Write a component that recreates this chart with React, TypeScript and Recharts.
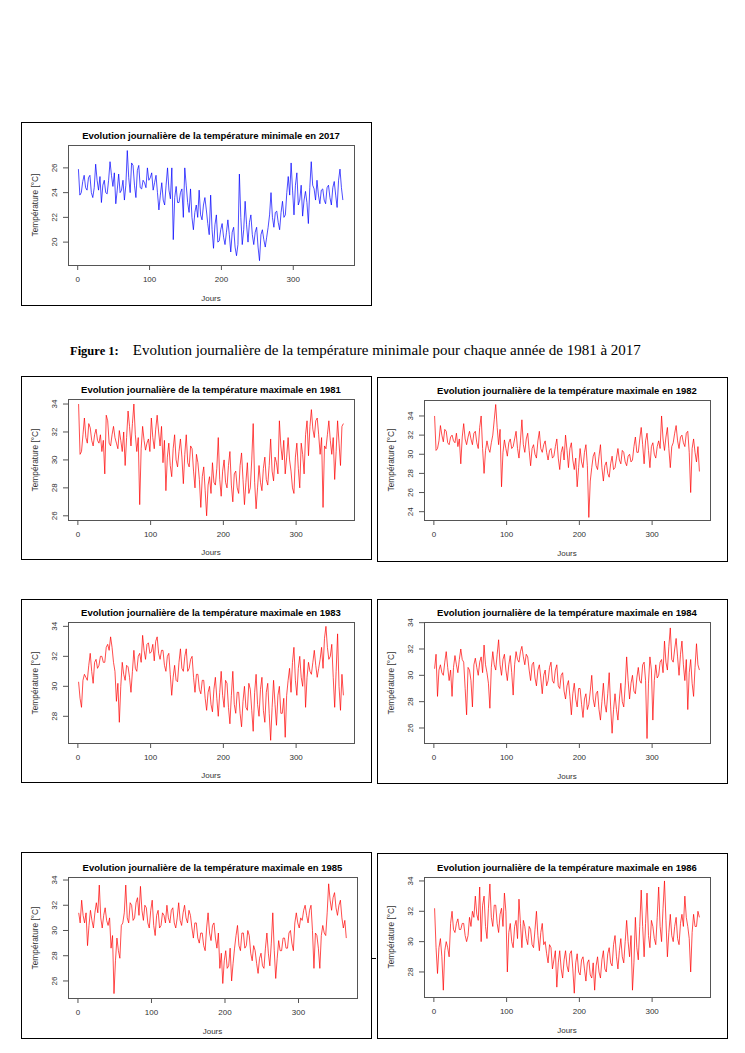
import { LineChart, Line, XAxis, YAxis } from "recharts";

// jours échantillonnés (1 sur 2)
const days = [
  1, 3, 5, 7, 9, 11, 13, 15, 17, 19, 21, 23, 25, 27, 29, 31, 33, 35, 37, 39,
  41, 43, 45, 47, 49, 51, 53, 55, 57, 59, 61, 63, 65, 67, 69, 71, 73, 75, 77, 79,
  81, 83, 85, 87, 89, 91, 93, 95, 97, 99, 101, 103, 105, 107, 109, 111, 113, 115, 117, 119,
  121, 123, 125, 127, 129, 131, 133, 135, 137, 139, 141, 143, 145, 147, 149, 151, 153, 155, 157, 159,
  161, 163, 165, 167, 169, 171, 173, 175, 177, 179, 181, 183, 185, 187, 189, 191, 193, 195, 197, 199,
  201, 203, 205, 207, 209, 211, 213, 215, 217, 219, 221, 223, 225, 227, 229, 231, 233, 235, 237, 239,
  241, 243, 245, 247, 249, 251, 253, 255, 257, 259, 261, 263, 265, 267, 269, 271, 273, 275, 277, 279,
  281, 283, 285, 287, 289, 291, 293, 295, 297, 299, 301, 303, 305, 307, 309, 311, 313, 315, 317, 319,
  321, 323, 325, 327, 329, 331, 333, 335, 337, 339, 341, 343, 345, 347, 349, 351, 353, 355, 357, 359,
  361, 363, 365,
];
const days2017 = [...days, 367, 369];

const tmin2017 = [
  25.9, 23.8, 24.0, 24.9, 25.4, 24.4, 24.2, 25.2, 25.4, 24.0,
  23.6, 24.4, 26.3, 25.0, 24.2, 25.3, 23.2, 24.6, 25.0, 24.0,
  23.9, 25.0, 26.5, 25.4, 24.5, 25.6, 23.1, 24.2, 25.5, 24.0,
  24.2, 25.0, 23.4, 24.6, 27.4, 25.2, 24.0, 26.4, 26.2, 24.6,
  23.6, 25.8, 26.2, 24.4, 24.3, 25.0, 24.8, 24.4, 26.0, 25.0,
  25.2, 25.6, 24.2, 24.8, 25.4, 24.0, 22.6, 23.8, 24.8, 23.4,
  23.0, 24.6, 26.0, 24.2, 23.5, 26.0, 20.2, 23.6, 24.5, 23.2,
  23.2, 24.0, 24.3, 22.0, 26.0, 24.6, 23.2, 22.4, 24.3, 22.0,
  21.0, 22.4, 23.0, 22.0, 24.2, 22.2, 21.8, 23.0, 23.6, 22.6,
  21.5, 20.6, 23.8, 21.0, 19.5, 21.4, 22.2, 20.0, 20.1, 21.0,
  21.5, 20.4, 19.8, 20.8, 21.8, 20.6, 19.2, 20.8, 21.2, 19.6,
  18.9, 19.8, 25.5, 22.0, 19.8, 21.0, 23.3, 21.4, 20.0, 21.6,
  22.2, 20.6, 19.8, 20.8, 21.2, 19.6, 18.5, 20.6, 21.0, 20.2,
  19.6, 20.4, 21.2, 22.2, 24.0, 22.0, 21.2, 22.4, 22.5, 21.6,
  21.0, 22.4, 23.3, 22.0, 22.2, 24.0, 25.3, 23.8, 26.4, 24.2,
  22.2, 24.6, 25.6, 23.0, 23.4, 24.6, 22.1, 23.4, 24.1, 23.2,
  21.5, 24.4, 26.5, 24.6, 24.3, 23.4, 25.0, 23.8, 23.1, 24.2,
  24.3, 23.4, 23.1, 24.4, 24.6, 23.6, 23.0, 24.4, 24.9, 23.8,
  22.8, 25.0, 25.9, 24.4, 23.4,
];

const tmax1981 = [
  34.0, 30.4, 30.6, 31.8, 33.0, 31.6, 31.2, 32.6, 32.3, 31.4,
  31.0, 31.8, 32.2, 31.4, 31.2, 31.8, 30.6, 31.4, 29.0, 33.2,
  32.8, 31.2, 31.0, 31.8, 32.4, 31.6, 31.2, 30.8, 32.1, 31.4,
  30.6, 32.0, 29.6, 31.6, 33.5, 32.4, 31.0, 32.6, 34.0, 31.8,
  30.6, 31.6, 26.8, 30.8, 32.4, 31.4, 30.7, 31.2, 31.5, 30.6,
  33.0, 31.6, 30.8, 32.2, 33.2, 32.0, 31.0, 32.4, 29.8, 31.4,
  27.8, 30.2, 31.2, 29.6, 28.8, 30.8, 31.8, 30.0, 29.5, 30.6,
  31.5, 30.2, 28.3, 30.4, 31.8, 29.8, 29.5, 31.0, 30.8, 29.2,
  28.0, 30.4, 29.8, 28.6, 26.6, 28.8, 29.5, 27.8, 26.0, 28.2,
  28.8, 27.6, 29.8, 28.4, 28.2, 29.4, 31.6, 28.6, 27.4, 29.2,
  30.0, 28.4, 28.0, 29.6, 30.6, 28.2, 27.0, 29.0, 29.2, 28.0,
  27.6, 29.6, 30.5, 28.6, 26.8, 28.4, 29.8, 27.6, 28.0, 30.0,
  32.6, 28.4, 26.5, 28.0, 29.6, 28.4, 27.8, 29.4, 30.2, 28.6,
  28.2, 29.6, 31.5, 29.2, 28.5, 30.2, 29.8, 29.0, 32.8, 31.0,
  30.0, 31.4, 29.0, 30.2, 31.6, 30.0, 29.2, 28.0, 27.6, 30.2,
  31.2, 29.4, 28.0, 31.2, 30.4, 29.0, 31.8, 32.8, 30.3, 32.4,
  33.6, 32.2, 31.6, 32.8, 33.0, 31.8, 30.4, 31.6, 26.6, 31.0,
  30.8, 31.8, 32.8, 31.4, 30.4, 31.6, 28.6, 30.6, 32.8, 31.2,
  29.6, 32.4, 32.6,
];

const tmax1982 = [
  34.0, 30.4, 30.6, 31.4, 33.0, 32.0, 31.3, 32.6, 32.4, 31.2,
  31.0, 31.8, 32.0, 31.4, 31.2, 32.2, 30.8, 31.6, 29.0, 31.8,
  33.2, 31.6, 31.0, 31.8, 32.4, 31.6, 31.0, 32.2, 32.4, 31.2,
  30.6, 32.8, 34.0, 30.6, 28.0, 30.4, 31.4, 30.6, 30.2, 31.2,
  32.0, 33.6, 35.2, 32.8, 31.0, 32.6, 26.6, 30.2, 31.5, 30.6,
  29.8, 31.2, 31.6, 30.6, 30.8, 31.6, 32.4, 30.6, 29.6, 31.4,
  33.6, 31.0, 30.2, 31.6, 32.2, 30.4, 28.8, 30.6, 31.0, 30.0,
  29.6, 31.4, 32.4, 30.6, 30.2, 31.0, 31.4, 30.2, 29.4, 30.4,
  30.6, 29.6, 29.8, 30.8, 31.6, 29.6, 28.4, 30.2, 30.8, 29.4,
  32.0, 30.4, 28.6, 30.6, 31.2, 29.4, 28.4, 29.6, 26.6, 28.6,
  30.6, 29.2, 28.6, 30.2, 31.0, 28.8, 23.4, 27.2, 28.6, 29.8,
  30.2, 28.8, 28.4, 29.8, 31.0, 28.6, 27.2, 28.8, 29.2, 28.0,
  27.6, 29.0, 29.8, 28.4, 28.6, 29.6, 30.6, 29.4, 29.0, 30.4,
  30.2, 29.2, 28.8, 29.8, 30.0, 29.2, 29.4, 30.8, 31.8, 30.2,
  30.2, 31.6, 32.8, 31.0, 29.0, 31.4, 32.2, 30.4, 28.6, 30.8,
  31.2, 30.0, 29.6, 30.8, 31.4, 30.6, 34.0, 31.6, 30.4, 31.8,
  32.8, 30.6, 28.6, 30.8, 31.2, 32.2, 33.0, 31.4, 30.6, 31.8,
  32.0, 31.2, 30.8, 32.2, 32.4, 30.2, 26.0, 30.6, 31.6, 30.2,
  29.2, 30.8, 28.2,
];

const tmax1983 = [
  30.3, 29.2, 28.6, 30.4, 30.8, 30.6, 30.4, 31.4, 32.2, 31.0,
  30.2, 31.6, 31.8, 31.2, 31.4, 32.0, 32.0, 31.6, 31.6, 32.6,
  32.8, 32.4, 33.3, 32.6, 31.6, 31.0, 29.0, 30.2, 27.6, 30.0,
  31.6, 30.8, 30.4, 31.4, 31.3, 30.6, 29.6, 31.0, 32.4, 31.2,
  31.0, 32.0, 32.2, 31.6, 33.4, 32.4, 31.8, 32.8, 32.9, 32.2,
  32.3, 32.8, 31.7, 33.0, 33.3, 32.2, 31.8, 32.4, 32.4, 31.4,
  31.0, 32.0, 32.2, 30.8, 29.4, 30.6, 31.4, 30.4, 30.3, 31.6,
  32.5, 31.2, 31.0, 32.0, 32.5, 31.0, 31.2, 31.8, 32.0, 30.6,
  29.6, 30.8, 30.8, 29.8, 29.5, 30.4, 30.4, 29.2, 28.4, 29.6,
  30.0, 28.8, 28.3, 29.8, 30.6, 29.2, 28.0, 29.6, 31.0, 29.4,
  28.6, 30.4, 30.2, 28.6, 27.5, 29.4, 31.0, 28.8, 28.2, 29.6,
  29.6, 28.2, 27.3, 29.0, 30.0, 28.6, 28.4, 30.2, 29.8, 28.4,
  27.0, 29.6, 30.8, 28.8, 28.0, 29.8, 30.6, 28.4, 27.6, 29.6,
  30.2, 28.2, 26.4, 28.6, 30.4, 28.8, 27.4, 29.4, 30.0, 28.2,
  28.2, 29.2, 26.6, 29.4, 30.4, 31.2, 29.6, 31.6, 32.6, 30.4,
  29.4, 31.2, 32.0, 30.6, 30.0, 31.8, 28.6, 30.6, 31.6, 31.0,
  30.8, 31.6, 32.4, 31.4, 30.6, 31.2, 31.8, 32.6, 31.2, 33.2,
  34.0, 32.6, 31.8, 32.0, 32.8, 30.6, 28.6, 31.0, 33.5, 30.0,
  28.4, 30.8, 29.4,
];

const tmax1984 = [
  30.5, 31.6, 28.4, 30.4, 30.8, 30.2, 30.0, 31.0, 31.8, 30.6,
  29.6, 30.4, 28.4, 30.6, 31.5, 30.8, 30.2, 31.2, 32.0, 31.2,
  31.0, 29.0, 27.0, 30.6, 30.4, 29.6, 27.6, 30.8, 31.3, 30.6,
  30.0, 31.0, 31.4, 30.2, 32.3, 30.8, 30.2, 29.4, 27.5, 30.6,
  31.8, 30.8, 30.4, 31.6, 32.7, 30.8, 30.0, 31.2, 31.6, 30.4,
  29.6, 30.8, 31.5, 30.2, 28.5, 30.8, 31.8, 31.2, 31.0, 31.8,
  32.2, 31.4, 30.8, 31.6, 31.4, 30.4, 29.6, 30.8, 31.0, 29.8,
  29.2, 30.4, 30.8, 29.8, 28.6, 30.0, 30.4, 29.2, 29.6, 30.6,
  31.0, 29.6, 29.4, 30.4, 30.8, 29.2, 29.0, 30.0, 30.2, 28.8,
  28.2, 29.2, 29.6, 28.4, 27.0, 28.6, 29.4, 28.2, 27.6, 29.0,
  29.0, 27.8, 26.8, 28.2, 28.6, 27.4, 27.8, 28.8, 30.0, 28.2,
  27.6, 28.6, 28.8, 27.4, 26.6, 28.0, 29.4, 27.8, 27.2, 28.6,
  30.2, 27.6, 25.6, 27.4, 28.6, 27.4, 26.6, 28.2, 29.4, 28.0,
  27.6, 29.2, 31.4, 29.6, 28.2, 29.4, 30.0, 28.8, 28.6, 29.8,
  30.6, 29.6, 29.4, 30.8, 31.0, 29.6, 25.2, 29.4, 31.4, 30.4,
  26.6, 29.6, 30.8, 29.8, 30.0, 31.0, 31.2, 30.2, 32.6, 31.0,
  30.4, 32.2, 33.6, 31.2, 31.0, 32.0, 32.8, 31.4, 30.0, 31.6,
  32.6, 30.8, 29.6, 31.2, 27.4, 30.2, 31.2, 29.4, 28.4, 30.6,
  32.4, 30.8, 30.4,
];

const tmax1985 = [
  31.4, 30.6, 32.4, 31.2, 30.6, 31.4, 28.8, 30.4, 31.6, 30.8,
  30.2, 31.4, 32.2, 31.4, 33.6, 31.0, 30.2, 31.2, 31.8, 30.8,
  30.4, 31.0, 28.6, 29.6, 25.0, 27.6, 29.4, 28.4, 27.8, 30.4,
  30.6, 31.4, 33.6, 31.0, 30.6, 32.2, 32.0, 30.8, 31.0, 32.2,
  32.6, 31.2, 33.5, 31.6, 30.8, 32.0, 31.8, 30.6, 30.2, 31.6,
  32.4, 30.4, 29.6, 31.2, 31.6, 30.2, 30.4, 31.4, 31.2, 30.6,
  32.0, 31.0, 30.6, 31.6, 31.8, 30.6, 30.2, 31.0, 32.2, 30.8,
  30.4, 31.4, 32.0, 31.0, 30.6, 31.6, 31.2, 30.2, 29.4, 30.6,
  30.6, 29.4, 29.0, 29.8, 29.8, 28.8, 28.4, 30.2, 31.4, 29.8,
  29.2, 30.4, 30.6, 29.4, 28.6, 29.8, 27.0, 28.2, 25.8, 27.6,
  28.4, 27.0, 27.2, 28.6, 26.0, 27.4, 28.6, 29.6, 30.4, 28.8,
  28.4, 29.8, 29.8, 28.6, 28.8, 30.0, 29.6, 28.2, 27.6, 28.8,
  28.4, 27.4, 26.6, 27.8, 28.2, 27.2, 27.0, 28.6, 29.8, 28.2,
  27.2, 29.0, 31.4, 28.4, 26.2, 27.8, 29.2, 28.4, 28.4, 29.4,
  29.4, 28.6, 28.6, 29.8, 30.0, 29.0, 28.4, 30.6, 31.4, 30.6,
  30.2, 31.0, 30.8, 31.6, 32.0, 31.2, 30.6, 31.6, 32.0, 30.0,
  27.0, 29.8, 29.6, 28.6, 27.0, 29.6, 30.4, 29.8, 29.6, 31.4,
  33.7, 32.4, 31.6, 32.6, 33.0, 31.8, 31.2, 32.0, 32.4, 31.0,
  30.2, 30.8, 29.4,
];

const tmax1986 = [
  32.2, 29.6, 27.9, 29.6, 30.2, 29.0, 26.8, 29.4, 30.0, 29.6,
  29.0, 31.2, 32.0, 30.8, 30.6, 31.2, 31.5, 30.8, 30.8, 31.2,
  31.2, 30.4, 30.0, 30.4, 31.6, 31.0, 32.0, 31.6, 33.0, 31.8,
  31.4, 33.6, 30.0, 32.4, 33.0, 31.0, 30.2, 32.2, 33.8, 31.6,
  31.0, 32.4, 32.4, 31.2, 30.6, 31.8, 32.2, 31.0, 33.2, 32.0,
  28.0, 30.6, 31.2, 30.0, 29.6, 31.0, 31.4, 30.2, 32.8, 31.2,
  29.6, 31.4, 31.0, 30.2, 29.8, 31.0, 30.8, 29.8, 29.6, 30.8,
  32.0, 30.4, 29.4, 30.6, 31.2, 29.8, 30.0, 29.2, 28.6, 29.8,
  29.6, 28.2, 28.8, 29.4, 27.0, 28.6, 29.4, 28.2, 27.6, 28.8,
  29.4, 28.4, 28.0, 29.2, 29.4, 28.2, 26.6, 28.6, 29.2, 28.0,
  27.8, 28.8, 29.0, 28.2, 27.4, 28.6, 28.8, 27.8, 27.6, 28.6,
  26.8, 28.4, 29.0, 28.0, 27.6, 28.8, 29.4, 28.2, 28.0, 29.2,
  29.6, 28.6, 28.4, 29.8, 30.4, 29.0, 28.2, 29.4, 30.2, 29.0,
  28.6, 30.0, 31.4, 30.0, 29.0, 30.4, 26.8, 28.6, 31.6, 29.6,
  28.8, 31.0, 33.4, 31.0, 29.0, 31.2, 33.2, 30.4, 29.6, 31.4,
  31.0, 30.2, 29.8, 31.6, 33.6, 31.0, 30.0, 32.2, 34.0, 31.4,
  29.0, 30.6, 31.8, 30.4, 30.0, 31.0, 31.6, 30.2, 29.8, 31.2,
  31.8, 31.0, 33.0, 31.6, 31.0, 30.2, 28.0, 30.6, 31.8, 31.0,
  31.0, 32.0, 31.6,
];

const xTicks = [0, 100, 200, 300];

type Panel = {
  title: string;
  days: number[];
  values: number[];
  color: string;
  box: [number, number, number, number];
  plot: [number, number, number, number];
  yDomain: [number, number];
  yTicks: number[];
  xDomain: [number, number];
};

const panels: Panel[] = [
  {
    title: "Evolution journalière de la température minimale en 2017",
    days: days2017, values: tmin2017, color: "#0000ff",
    box: [21, 122, 351, 184], plot: [68, 145, 354, 265],
    yDomain: [18.15, 27.85], yTicks: [20, 22, 24, 26], xDomain: [-13.5, 384.5],
  },
  {
    title: "Evolution journalière de la température maximale en 1981",
    days, values: tmax1981, color: "#ff0000",
    box: [21, 376, 351, 184], plot: [68, 399, 354, 520],
    yDomain: [25.7, 34.36], yTicks: [26, 28, 30, 32, 34], xDomain: [-13.56, 379.56],
  },
  {
    title: "Evolution journalière de la température maximale en 1982",
    days, values: tmax1982, color: "#ff0000",
    box: [377, 377, 351, 185], plot: [424, 400, 710, 520],
    yDomain: [23.13, 35.67], yTicks: [24, 26, 28, 30, 32, 34], xDomain: [-13.56, 379.56],
  },
  {
    title: "Evolution journalière de la température maximale en 1983",
    days, values: tmax1983, color: "#ff0000",
    box: [21, 599, 351, 184], plot: [68, 622, 354, 743],
    yDomain: [26.22, 34.29], yTicks: [28, 30, 32, 34], xDomain: [-13.56, 379.56],
  },
  {
    title: "Evolution journalière de la température maximale en 1984",
    days, values: tmax1984, color: "#ff0000",
    box: [377, 599, 351, 185], plot: [424, 622, 710, 743],
    yDomain: [24.86, 34.05], yTicks: [26, 28, 30, 32, 34], xDomain: [-13.56, 379.56],
  },
  {
    title: "Evolution journalière de la température maximale en 1985",
    days, values: tmax1985, color: "#ff0000",
    box: [21, 852, 351, 187], plot: [68, 877, 357, 998],
    yDomain: [24.65, 34.24], yTicks: [26, 28, 30, 32, 34], xDomain: [-13.56, 379.56],
  },
  {
    title: "Evolution journalière de la température maximale en 1986",
    days, values: tmax1986, color: "#ff0000",
    box: [377, 853, 351, 186], plot: [424, 877, 710, 997],
    yDomain: [26.35, 34.26], yTicks: [28, 30, 32, 34], xDomain: [-13.56, 379.56],
  },
];

const FONT = "'Liberation Sans', Arial, sans-serif";
const YW = 30;
const XH = 30;

function XTick(props: any) {
  const { x, y, payload } = props;
  return (
    <text x={x} y={y} dy="0.71em" textAnchor="middle" fontSize={8} fill="#333" fontFamily={FONT}>
      {payload.value}
    </text>
  );
}

function YTick(props: any) {
  const { x, y, payload } = props;
  return (
    <text x={x} y={y} transform={`rotate(-90 ${x} ${y})`} textAnchor="middle" fontSize={8} fill="#333" fontFamily={FONT}>
      {payload.value}
    </text>
  );
}

function ChartPanel({ p }: { p: Panel }) {
  const [bx, by, bw, bh] = p.box;
  const [pl, pt, pr, pb] = p.plot;
  const data = p.days.map((d, i) => ({ day: d, t: p.values[i] }));
  // coordonnées relatives au cadre (origine = coin extérieur)
  const l = pl - bx, t = pt - by, r = pr - bx, b = pb - by;
  return (
    <div
      style={{
        position: "absolute", left: bx, top: by, width: bw, height: bh,
        border: "1px solid #000", boxSizing: "border-box", overflow: "hidden", background: "#fff",
      }}
    >
      <div style={{ position: "absolute", left: -1, top: -1 }}>
        <LineChart
          width={bw}
          height={bh}
          data={data}
          margin={{ left: l - YW, top: t, right: bw - r, bottom: bh - b - XH }}
        >
          <XAxis
            dataKey="day" type="number" domain={p.xDomain} ticks={xTicks}
            allowDataOverflow axisLine={false} height={XH}
            tickSize={5} tickMargin={6} tick={<XTick />}
            tickLine={{ stroke: "#555" }} interval={0}
          />
          <YAxis
            type="number" domain={p.yDomain} ticks={p.yTicks}
            allowDataOverflow axisLine={false} width={YW}
            tickSize={5} tickMargin={6} tick={<YTick />}
            tickLine={{ stroke: "#555" }} interval={0}
          />
          <Line
            type="linear" dataKey="t" stroke={p.color} strokeWidth={0.7}
            dot={false} isAnimationActive={false}
          />
        </LineChart>
      </div>
      {/* cadre du graphique */}
      <div
        style={{
          position: "absolute", left: l - 1, top: t - 1, width: r - l + 1, height: b - t + 1,
          border: "1px solid #555", boxSizing: "border-box", pointerEvents: "none",
        }}
      />
      <div
        style={{
          position: "absolute", left: l - 1, width: r - l, top: t - 1 - 15, height: 12,
          lineHeight: "12px", textAlign: "center", fontFamily: FONT, fontWeight: "bold",
          fontSize: 9.5, color: "#000", whiteSpace: "nowrap",
        }}
      >
        {p.title}
      </div>
      <div
        style={{
          position: "absolute", left: l - 1, width: r - l, top: Math.min(b - 1 + 29, bh - 13), height: 10,
          lineHeight: "10px", textAlign: "center", fontFamily: FONT, fontSize: 8, color: "#333",
        }}
      >
        Jours
      </div>
      <div
        style={{
          position: "absolute", left: l - 1 - 33 - 60, top: (t + b) / 2 - 1 - 5, width: 120, height: 10,
          lineHeight: "10px", textAlign: "center", fontFamily: FONT, fontSize: 8.3, color: "#333",
          transform: "rotate(-90deg)", whiteSpace: "nowrap",
        }}
      >
        Température [°C]
      </div>
    </div>
  );
}

export default function App() {
  return (
    <div style={{ position: "absolute", left: 0, top: 0, width: 745, height: 1053, background: "#fff" }}>
      <ChartPanel p={panels[0]} />
      <div
        style={{
          position: "absolute", left: 70, top: 341, whiteSpace: "nowrap",
          fontFamily: "'Liberation Serif', 'Times New Roman', serif", color: "#000",
        }}
      >
        <span style={{ fontWeight: "bold", fontSize: 12.5 }}>Figure 1:</span>
        <span style={{ fontSize: 15, marginLeft: 14 }}>
          Evolution journalière de la température minimale pour chaque année de 1981 à 2017
        </span>
      </div>
      {panels.slice(1).map((p) => (
        <ChartPanel key={p.title} p={p} />
      ))}
      <div style={{ position: "absolute", left: 372, top: 958, width: 4, height: 1, background: "#000" }} />
    </div>
  );
}
